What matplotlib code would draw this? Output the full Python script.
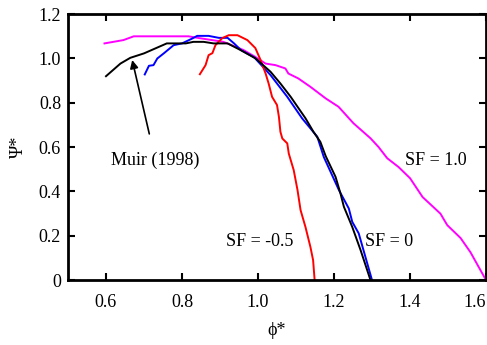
import numpy as np
import matplotlib
matplotlib.use("Agg")
import matplotlib.pyplot as plt

plt.rcParams['font.family'] = ['Liberation Serif', 'DejaVu Serif']

## data

# SF = 1.0 (magenta)
x_sf1 = [0.596, 0.646, 0.673, 0.817, 0.845, 0.909, 0.962, 0.993, 1.020, 1.046, 1.072, 1.080,
         1.106, 1.138, 1.178, 1.212, 1.251, 1.296, 1.317, 1.340, 1.370, 1.400, 1.433, 1.480,
         1.498, 1.533, 1.559, 1.600]
y_sf1 = [1.068, 1.083, 1.100, 1.100, 1.092, 1.075, 1.038, 1.007, 0.977, 0.970, 0.955, 0.932,
         0.910, 0.872, 0.820, 0.782, 0.708, 0.640, 0.601, 0.550, 0.510, 0.460, 0.375, 0.300,
         0.248, 0.190, 0.126, 0.0]

# Muir (1998) (black)
x_muir = [0.600, 0.638, 0.664, 0.700, 0.760, 0.810, 0.830, 0.857, 0.883, 0.920, 0.954, 0.994,
          1.033, 1.059, 1.086, 1.125, 1.146, 1.164, 1.178, 1.204, 1.217, 1.226, 1.248, 1.270,
          1.296]
y_muir = [0.920, 0.977, 1.003, 1.023, 1.068, 1.068, 1.075, 1.075, 1.068, 1.068, 1.038, 1.000,
          0.940, 0.887, 0.827, 0.730, 0.669, 0.624, 0.560, 0.466, 0.391, 0.331, 0.240, 0.135,
          0.0]

# SF = 0 (blue)
x_sf0 = [0.702, 0.713, 0.725, 0.735, 0.752, 0.778, 0.800, 0.827, 0.840, 0.870, 0.897, 0.920,
         0.937, 0.955, 0.990, 1.033, 1.077, 1.116, 1.156, 1.173, 1.213, 1.239, 1.248, 1.265,
         1.300]
y_sf0 = [0.928, 0.967, 0.970, 1.000, 1.023, 1.060, 1.068, 1.090, 1.102, 1.102, 1.093, 1.093,
         1.068, 1.038, 1.005, 0.925, 0.827, 0.730, 0.647, 0.556, 0.406, 0.323, 0.263, 0.211,
         0.0]

# SF = -0.5 (red)
x_sfm = [0.847, 0.862, 0.870, 0.880, 0.888, 0.906, 0.923, 0.946, 0.972, 0.993, 1.007, 1.020,
         1.028, 1.037, 1.050, 1.055, 1.059, 1.064, 1.077, 1.081, 1.094, 1.104, 1.112, 1.125,
         1.138, 1.145, 1.149]
y_sfm = [0.929, 0.970, 1.015, 1.024, 1.060, 1.092, 1.105, 1.105, 1.083, 1.047, 0.992, 0.932,
         0.887, 0.827, 0.790, 0.737, 0.669, 0.639, 0.617, 0.571, 0.496, 0.406, 0.316, 0.239,
         0.149, 0.090, 0.0]

xticks = [0.6, 0.8, 1.0, 1.2, 1.4, 1.6]
yticks = [0, 0.2, 0.4, 0.6, 0.8, 1.0, 1.2]
ytick_labels = ["0", "0.2", "0.4", "0.6", "0.8", "1.0", "1.2"]

## figure

fig = plt.figure(figsize=(4.87, 3.45), dpi=100)
ax = fig.add_axes([0.1396, 0.188, 0.8584, 0.771])

lw = 1.4
ax.plot(x_sf1, y_sf1, color="#ff00ff", lw=lw)
ax.plot(x_sf0, y_sf0, color="#0000ff", lw=lw)
ax.plot(x_sfm, y_sfm, color="#ff0000", lw=lw)
ax.plot(x_muir, y_muir, color="black", lw=lw)

ax.set_xlim(0.5, 1.6)
ax.set_ylim(0, 1.2)
ax.set_xticks(xticks)
ax.set_xticklabels([f"{v:.1f}" for v in xticks])
ax.set_yticks(yticks)
ax.set_yticklabels(ytick_labels)

fs = 13
ax.tick_params(direction="in", length=5, width=1.5, labelsize=fs,
               top=True, right=True)
ax.tick_params(axis="x", pad=10)
ax.tick_params(axis="y", pad=5)
for s in ax.spines.values():
    s.set_linewidth(2)
# last label sits at the figure edge
ax.get_xticklabels()[-1].set_ha("right")

ax.set_xlabel("ϕ*", fontsize=fs, labelpad=8)
ax.set_ylabel("Ψ*", fontsize=fs, labelpad=8)

ax.annotate("Muir (1998)", xy=(0.669, 0.993), xytext=(0.730, 0.541),
            ha="center", va="center", fontsize=fs,
            arrowprops=dict(arrowstyle="-|>", color="black", lw=1.2,
                            shrinkA=11, shrinkB=0, mutation_scale=12))
ax.text(1.467, 0.541, "SF = 1.0", ha="center", va="center", fontsize=fs)
ax.text(1.346, 0.173, "SF = 0", ha="center", va="center", fontsize=fs)
ax.text(1.004, 0.176, "SF = -0.5", ha="center", va="center", fontsize=fs)

fig.savefig("out.png", dpi=100)
